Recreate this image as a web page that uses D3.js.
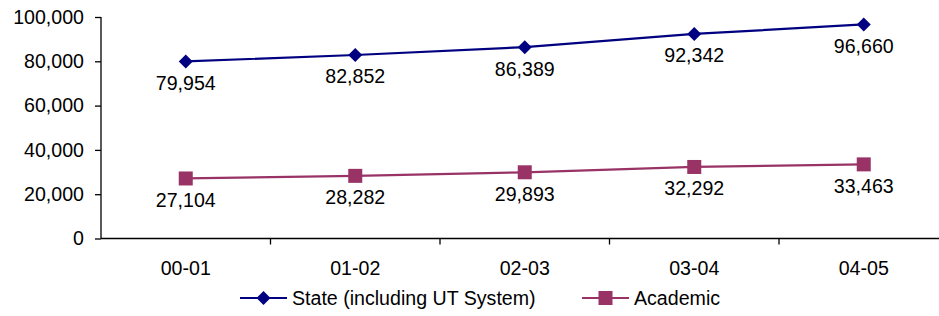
<!DOCTYPE html>
<html><head><meta charset="utf-8">
<script src="https://cdn.jsdelivr.net/npm/d3@7"></script>
<style>body{margin:0;background:#fff}svg{display:block}text{font-family:"Liberation Sans",Arial,sans-serif;fill:#000}</style>
</head><body>
<script>
const categories = ["00-01","01-02","02-03","03-04","04-05"];
const stateValues = [79954, 82852, 86389, 92342, 96660];
const academicValues = [27104, 28282, 29893, 32292, 33463];
const yTicks = [0, 20000, 40000, 60000, 80000, 100000];
const seriesNames = ["State (including UT System)", "Academic"];
const colors = ["#000080", "#993366"];

const W = 939, H = 316;
const svg = d3.select("body").append("svg").attr("width", W).attr("height", H);
const left = 101, bandW = 169.5;
const x = d3.scaleBand().domain(categories).range([left, left + bandW * 5]).paddingInner(0).paddingOuter(0);
const y = d3.scaleLinear().domain([0, 100000]).range([238.5, 17]);
const fmt = d3.format(",");
const fs = 19.6;

// y axis
const ya = svg.append("g").attr("transform", `translate(${left},0)`)
  .call(d3.axisLeft(y).tickValues(yTicks).tickFormat(fmt).tickSize(6).tickPadding(11));
ya.selectAll("text").attr("font-size", fs).attr("font-family", '"Liberation Sans",Arial,sans-serif');
ya.selectAll("path,line").attr("stroke", "#000").attr("stroke-width", 1.3);
ya.select(".domain").attr("d", `M0,${y(100000)}V${y(0)}`);

// x axis
const xa = svg.append("g").attr("transform", `translate(0,${y(0)})`)
  .call(d3.axisBottom(x).tickSize(0).tickPadding(23));
xa.selectAll("text").attr("font-size", fs).attr("font-family", '"Liberation Sans",Arial,sans-serif');
xa.select(".domain").attr("d", `M${left},0H${W}`).attr("stroke", "#000").attr("stroke-width", 1.3);
// category boundary ticks
const bounds = d3.range(1, 6).map(i => left + bandW * i);
svg.append("g").selectAll("line").data(bounds).join("line")
  .attr("x1", d => d).attr("x2", d => d).attr("y1", y(0)).attr("y2", y(0) + 6)
  .attr("stroke", "#000").attr("stroke-width", 1.3);

const cx = c => x(c) + x.bandwidth() / 2;
const series = [stateValues, academicValues];
const line = d3.line().x((d, i) => cx(categories[i])).y(d => y(d));

series.forEach((vals, si) => {
  svg.append("path").datum(vals).attr("d", line).attr("fill", "none")
    .attr("stroke", colors[si]).attr("stroke-width", 2.2);
  const g = svg.append("g");
  vals.forEach((v, i) => {
    const px = cx(categories[i]), py = y(v);
    if (si === 0) {
      g.append("path").attr("d", "M0,-7L7,0L0,7L-7,0Z").attr("transform", `translate(${px},${py})`).attr("fill", colors[0]);
    } else {
      g.append("rect").attr("x", px - 7).attr("y", py - 7).attr("width", 14).attr("height", 14).attr("fill", colors[1]);
    }
    g.append("text").attr("x", px).attr("y", py + 28.5).attr("text-anchor", "middle")
      .attr("font-size", fs).text(fmt(v));
  });
});

// legend
const legY = 298;
const leg = [{x: 240, tx: 292}, {x: 582, tx: 634}];
leg.forEach((l, i) => {
  svg.append("line").attr("x1", l.x).attr("x2", l.x + 47).attr("y1", legY).attr("y2", legY)
    .attr("stroke", colors[i]).attr("stroke-width", 2.2);
  const mx = l.x + 23.5;
  if (i === 0) svg.append("path").attr("d", "M0,-7L7,0L0,7L-7,0Z").attr("transform", `translate(${mx},${legY})`).attr("fill", colors[0]);
  else svg.append("rect").attr("x", mx - 7).attr("y", legY - 7).attr("width", 14).attr("height", 14).attr("fill", colors[1]);
  svg.append("text").attr("x", l.tx).attr("y", legY).attr("dy", "0.35em").attr("font-size", fs).text(seriesNames[i]);
});
</script>
</body></html>
